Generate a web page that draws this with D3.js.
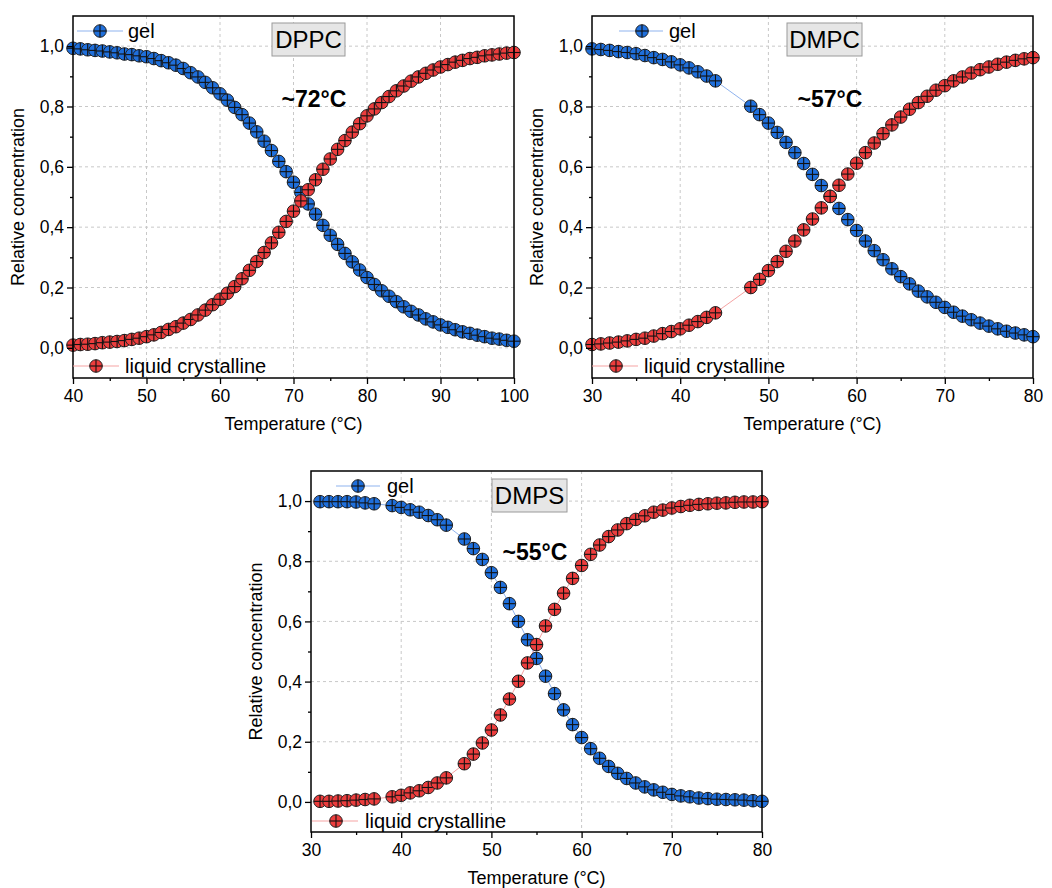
<!DOCTYPE html>
<html>
<head>
<meta charset="utf-8">
<script src="https://cdn.jsdelivr.net/npm/d3@7"></script>
<style>
  body { margin: 0; background: #fff; }
  svg { display: block; font-family: Arial, "Liberation Sans", sans-serif; }
  .grid line { stroke: #c8c8c8; stroke-dasharray: 3,3; }
  .tick text { font-size: 17.5px; fill: #000; }
</style>
</head>
<body>
<svg id="chart" width="1052" height="888"></svg>
<script>
// ---- data ----
const dppcT = d3.range(40, 101);
const dppcGel = [0.993,0.991,0.988,0.986,0.984,0.981,0.978,0.974,0.972,0.968,0.965,0.959,0.952,0.945,0.937,0.926,0.912,0.898,0.880,0.862,0.842,0.821,0.797,0.773,0.745,0.716,0.685,0.654,0.618,0.584,0.549,0.515,0.477,0.443,0.406,0.373,0.343,0.313,0.285,0.258,0.233,0.210,0.189,0.171,0.153,0.136,0.121,0.109,0.096,0.086,0.076,0.068,0.060,0.053,0.048,0.042,0.037,0.032,0.029,0.025,0.022];
const dppcLC = [0.009,0.011,0.012,0.014,0.017,0.019,0.021,0.024,0.028,0.032,0.037,0.043,0.051,0.061,0.070,0.082,0.094,0.109,0.125,0.143,0.161,0.181,0.203,0.229,0.257,0.286,0.316,0.348,0.383,0.419,0.453,0.487,0.524,0.557,0.592,0.626,0.658,0.687,0.715,0.743,0.769,0.792,0.813,0.833,0.852,0.868,0.884,0.898,0.910,0.921,0.931,0.939,0.947,0.953,0.959,0.963,0.968,0.971,0.974,0.977,0.979];

const dmpcT = [30,31,32,33,34,35,36,37,38,39,40,41,42,43,44,48,49,50,51,52,53,54,55,56,57,58,59,60,61,62,63,64,65,66,67,68,69,70,71,72,73,74,75,76,77,78,79,80];
const dmpcGel = [0.991,0.989,0.986,0.982,0.979,0.975,0.969,0.962,0.956,0.948,0.938,0.928,0.915,0.901,0.885,0.801,0.773,0.745,0.714,0.681,0.647,0.611,0.575,0.538,0.502,0.462,0.425,0.389,0.354,0.322,0.292,0.262,0.236,0.212,0.188,0.169,0.151,0.134,0.118,0.105,0.093,0.082,0.072,0.063,0.055,0.049,0.043,0.037];
const dmpcLC = [0.011,0.013,0.016,0.019,0.023,0.028,0.032,0.039,0.047,0.054,0.063,0.075,0.087,0.101,0.116,0.200,0.227,0.256,0.286,0.320,0.354,0.391,0.427,0.464,0.502,0.539,0.576,0.612,0.647,0.679,0.710,0.739,0.765,0.791,0.813,0.834,0.854,0.869,0.885,0.898,0.911,0.922,0.931,0.940,0.947,0.953,0.958,0.962];

const dmpsT = [31,32,33,34,35,36,37,39,40,41,42,43,44,45,47,48,49,50,51,52,53,54,55,56,57,58,59,60,61,62,63,64,65,66,67,68,69,70,71,72,73,74,75,76,77,78,79,80];
const dmpsGel = [0.998,0.998,0.998,0.998,0.997,0.994,0.991,0.985,0.979,0.971,0.963,0.952,0.938,0.920,0.874,0.842,0.806,0.762,0.713,0.659,0.600,0.539,0.477,0.418,0.360,0.306,0.257,0.214,0.177,0.145,0.118,0.095,0.078,0.063,0.050,0.040,0.032,0.025,0.020,0.017,0.013,0.011,0.009,0.008,0.007,0.006,0.004,0.002];
const dmpsLC = [0.002,0.002,0.003,0.004,0.006,0.008,0.010,0.017,0.022,0.030,0.037,0.048,0.063,0.080,0.127,0.159,0.196,0.239,0.289,0.342,0.401,0.462,0.523,0.585,0.640,0.694,0.743,0.786,0.823,0.854,0.882,0.904,0.925,0.939,0.951,0.963,0.970,0.977,0.982,0.986,0.989,0.991,0.993,0.994,0.996,0.997,0.997,0.998];

const yTicks = [0, 0.2, 0.4, 0.6, 0.8, 1.0];
const seriesNames = ['gel', 'liquid crystalline'];

const BLUE = '#1f6fdb', BLUE_LINE = '#8fb3ee';
const RED = '#ec3d3d', RED_LINE = '#f5a3a3';

const svg = d3.select('#chart');

function panel(cfg) {
	const W = cfg.w, H = cfg.h;
	const x = d3.scaleLinear().domain(cfg.xDomain).range([0, W]);
	const y = d3.scaleLinear().domain([-0.1, 1.1]).range([H, 0]);
	const g = svg.append('g').attr('transform', `translate(${cfg.left},${cfg.top})`);

	// grid
	const xMajor = d3.range(cfg.xDomain[0], cfg.xDomain[1] + 1, 10);
	const grid = g.append('g').attr('class', 'grid');
	grid.selectAll('.gx').data(xMajor.slice(1, -1)).enter().append('line')
		.attr('x1', d => x(d)).attr('x2', d => x(d)).attr('y1', 0).attr('y2', H);
	grid.selectAll('.gy').data(yTicks).enter().append('line')
		.attr('x1', 0).attr('x2', W).attr('y1', d => y(d)).attr('y2', d => y(d));

	// lines + markers
	const line = d3.line().x(d => x(d[0])).y(d => y(d[1]));
	const sets = [
		{vals: cfg.gel, fill: BLUE, stroke: BLUE_LINE},
		{vals: cfg.lc, fill: RED, stroke: RED_LINE}
	];
	sets.forEach(s => {
		const pts = cfg.t.map((t, i) => [t, s.vals[i]]);
		g.append('path').attr('d', line(pts)).attr('fill', 'none')
			.attr('stroke', s.stroke).attr('stroke-width', 1);
	});
	sets.forEach(s => {
		const pts = cfg.t.map((t, i) => [t, s.vals[i]]);
		const m = g.append('g').selectAll('g').data(pts).enter().append('g')
			.attr('transform', d => `translate(${x(d[0])},${y(d[1])})`);
		marker(m, s.fill);
	});

	// axes
	const xAxis = d3.axisBottom(x).tickValues(xMajor).tickSize(6).tickPadding(3).tickFormat(d3.format('d'));
	const xg = g.append('g').attr('transform', `translate(0,${H})`).call(xAxis);
	const xMinor = d3.range(cfg.xDomain[0] + 5, cfg.xDomain[1], 10);
	g.append('g').attr('transform', `translate(0,${H})`)
		.call(d3.axisBottom(x).tickValues(xMinor).tickSize(3).tickFormat(''))
		.select('.domain').remove();
	const yAxis = d3.axisLeft(y).tickValues(yTicks).tickSize(6).tickPadding(3)
		.tickFormat(d => d3.format('.1f')(d).replace('.', ','));
	const yg = g.append('g').call(yAxis);
	g.append('g').call(d3.axisLeft(y).tickValues([0.1, 0.3, 0.5, 0.7, 0.9]).tickSize(3).tickFormat(''))
		.select('.domain').remove();
	[xg, yg].forEach(a => {
		a.select('.domain').remove();
		a.selectAll('.tick line').attr('stroke', '#000');
	});
	g.selectAll('.tick line').attr('stroke-width', 1.3);
	xg.selectAll('.tick text').attr('dy', '0.85em');

	// frame
	g.append('rect').attr('width', W).attr('height', H)
		.attr('fill', 'none').attr('stroke', '#000').attr('stroke-width', 1.5);

	// axis titles
	g.append('text').attr('x', W / 2).attr('y', H + 52).attr('text-anchor', 'middle')
		.attr('font-size', 18).text('Temperature (°C)');
	g.append('text').attr('transform', `translate(${-cfg.yTitleOff},${H / 2}) rotate(-90)`)
		.attr('text-anchor', 'middle').attr('font-size', 18).text('Relative concentration');

	// legends
	const leg = [
		{pos: cfg.legGel, fill: BLUE, stroke: BLUE_LINE, name: seriesNames[0]},
		{pos: cfg.legLC, fill: RED, stroke: RED_LINE, name: seriesNames[1]}
	];
	leg.forEach(l => {
		const p = l.pos;
		g.append('line').attr('x1', p.x1).attr('x2', p.x2).attr('y1', p.y).attr('y2', p.y)
			.attr('stroke', l.stroke).attr('stroke-width', 1);
		marker(g.append('g').attr('transform', `translate(${p.m},${p.y})`), l.fill);
		g.append('text').attr('x', p.tx).attr('y', p.y).attr('dy', '0.33em')
			.attr('font-size', 20).text(l.name);
	});

	// name box
	const b = cfg.box;
	g.append('rect').attr('x', b.x).attr('y', b.y).attr('width', b.w).attr('height', 33)
		.attr('fill', '#e6e6e6').attr('stroke', '#9a9a9a').attr('stroke-width', 1);
	g.append('text').attr('x', b.x + b.w / 2).attr('y', b.y + 25).attr('text-anchor', 'middle')
		.attr('font-size', 24).text(cfg.name);

	// transition temperature
	g.append('text').attr('x', cfg.tm.x).attr('y', cfg.tm.y).attr('text-anchor', 'middle')
		.attr('font-size', 23).attr('font-weight', 'bold').text(cfg.tm.label);
}

function marker(sel, fill) {
	const r = 6.3;
	sel.append('circle').attr('r', r).attr('fill', fill).attr('stroke', '#222').attr('stroke-width', 1);
	sel.append('line').attr('x1', -r).attr('x2', r).attr('stroke', '#111').attr('stroke-width', 1.1);
	sel.append('line').attr('y1', -r).attr('y2', r).attr('stroke', '#111').attr('stroke-width', 1.1);
}

panel({
	name: 'DPPC', left: 73, top: 16, w: 441, h: 362, xDomain: [40, 100],
	t: dppcT, gel: dppcGel, lc: dppcLC, yTitleOff: 49,
	legGel: {x1: 4, x2: 50, m: 27, tx: 55, y: 15},
	legLC: {x1: 0, x2: 46, m: 23, tx: 52, y: 350},
	box: {x: 199, y: 7, w: 73},
	tm: {label: '~72°C', x: 241, y: 91}
});
panel({
	name: 'DMPC', left: 592, top: 16, w: 441, h: 362, xDomain: [30, 80],
	t: dmpcT, gel: dmpcGel, lc: dmpcLC, yTitleOff: 49,
	legGel: {x1: 27, x2: 71, m: 50, tx: 77, y: 15},
	legLC: {x1: 0, x2: 46, m: 24, tx: 52, y: 350},
	box: {x: 195, y: 7, w: 75},
	tm: {label: '~57°C', x: 238, y: 91}
});
panel({
	name: 'DMPS', left: 311, top: 471, w: 451, h: 361, xDomain: [30, 80],
	t: dmpsT, gel: dmpsGel, lc: dmpsLC, yTitleOff: 49,
	legGel: {x1: 25, x2: 69, m: 47, tx: 76, y: 15},
	legLC: {x1: 1, x2: 47, m: 25, tx: 54, y: 350},
	box: {x: 181, y: 8, w: 75},
	tm: {label: '~55°C', x: 224, y: 89}
});
</script>
</body>
</html>
